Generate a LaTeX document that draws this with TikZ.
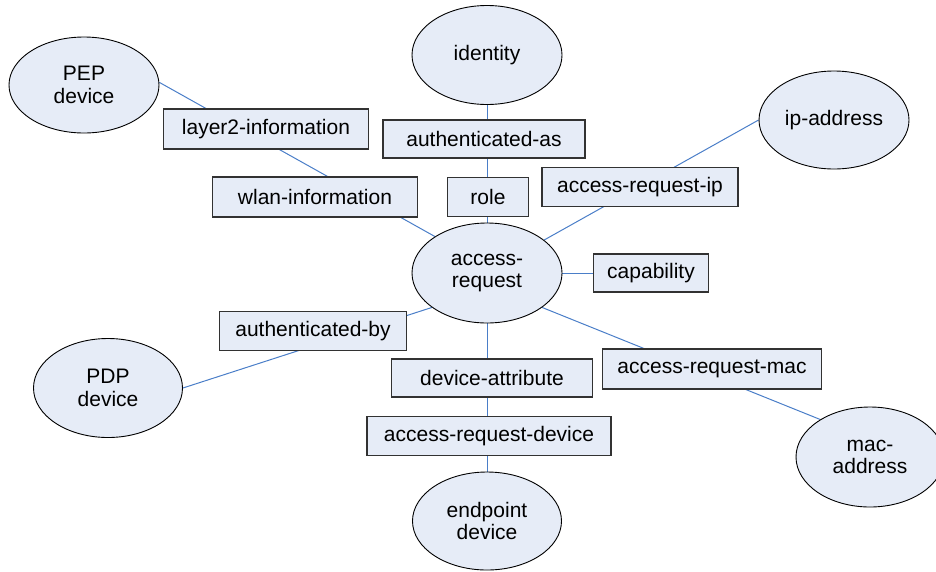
\documentclass[tikz,border=0pt]{standalone}
\usepackage{fontspec}
\setmainfont{Liberation Sans}
\usetikzlibrary{shapes.geometric,backgrounds}
\definecolor{nodefill}{RGB}{230,236,247}
\definecolor{linkblue}{RGB}{74,126,200}
\definecolor{boxline}{RGB}{50,50,50}
\tikzset{
  ent/.style={ellipse, draw=black, line width=0.9pt, fill=nodefill, inner sep=0pt,
    align=center, font=\fontsize{21}{22.5}\selectfont},
  rel/.style={rectangle, draw=boxline, line width=1.1pt, fill=nodefill, inner sep=0pt,
    minimum height=39pt, font=\fontsize{21}{22.5}\selectfont},
  link/.style={draw=linkblue, line width=1pt}
}
\begin{document}
\begin{tikzpicture}[x=1pt,y=-1pt]
\useasboundingbox (0,0) rectangle (936,571);
% entities
\node[ent, minimum width=150pt, minimum height=96pt] (pep) at (84,85) {PEP\\device};
\node[ent, minimum width=150pt, minimum height=99pt] (id) at (487,55) {identity};
\node[ent, minimum width=150pt, minimum height=98pt] (ip) at (834,120) {ip-address};
\node[ent, minimum width=150pt, minimum height=100pt] (ar) at (487,273) {access-\\request};
\node[ent, minimum width=149pt, minimum height=99pt] (pdp) at (108,388) {PDP\\device};
\node[ent, minimum width=149pt, minimum height=98pt] (ep) at (487,521) {endpoint\\device};
\node[ent, minimum width=148pt, minimum height=100pt] (mac) at (870,457) {mac-\\address};
% relation boxes
\node[rel, minimum width=205pt, minimum height=40pt] (l2) at (266,129) {layer2-information};
\node[rel, minimum width=205pt, minimum height=40pt] (wlan) at (315,197) {wlan-information};
\node[rel, minimum width=202pt, minimum height=38pt] (authas) at (484,139) {authenticated-as};
\node[rel, minimum width=81pt] (role) at (488,197) {role};
\node[rel, minimum width=196pt] (arip) at (640,187) {access-request-ip};
\node[rel, minimum width=115pt, minimum height=38pt] (cap) at (651,273) {capability};
\node[rel, minimum width=219pt, minimum height=40pt] (armac) at (712,369) {access-request-mac};
\node[rel, minimum width=187pt] (authby) at (313,331) {authenticated-by};
\node[rel, minimum width=201pt, minimum height=38pt] (devattr) at (492,378) {device-attribute};
\node[rel, minimum width=244pt] (ardev) at (489,436) {access-request-device};
% connectors
\begin{pgfonlayer}{background}
\draw[link] (pep.2) -- (ar.145);
\draw[link] (id.south) -- (ar.north);
\draw[link] (ar.30.5) -- (ip.west);
\draw[link] (ar.east) -- (cap.west);
\draw[link] (ar.-32) -- (mac.143.5);
\draw[link] (ar.212.7) -- (pdp.east);
\draw[link] (ar.south) -- (ep.north);
\end{pgfonlayer}
\end{tikzpicture}
\end{document}
